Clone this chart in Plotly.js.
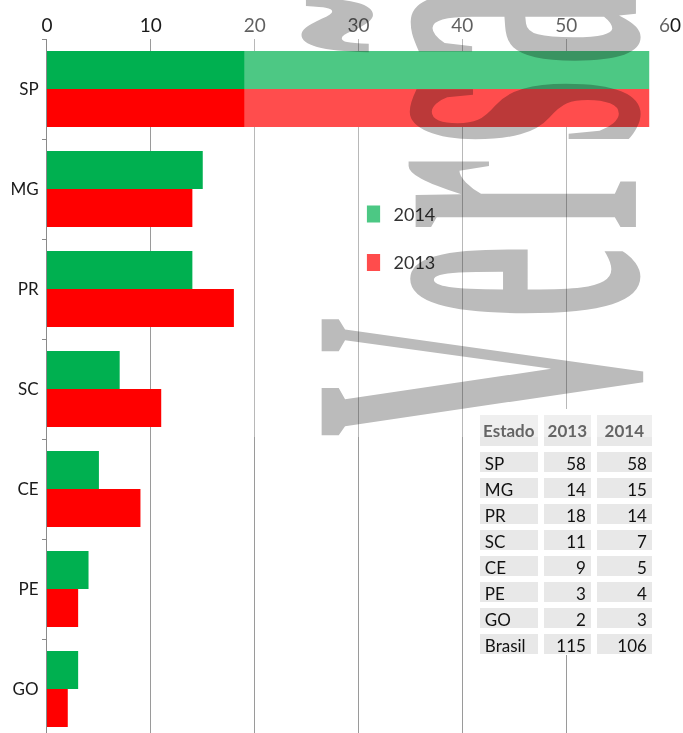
<!DOCTYPE html>
<html><head><meta charset="utf-8">
<script src="https://cdn.plot.ly/plotly-3.0.1.min.js"></script>
<style>
html,body{margin:0;padding:0;background:#fff;}
#chart{width:683px;height:733px;}
.legendpoints path{opacity:0.7 !important;}
</style></head><body><div id="chart"></div>
<script>
// ---- data ----
const estados = ['SP','MG','PR','SC','CE','PE','GO'];
const v2014 = [58,15,14,7,5,4,3];
const v2013 = [58,14,18,11,9,3,2];
const tabelaEstados = ['SP','MG','PR','SC','CE','PE','GO','Brasil'];
const tabela2013 = [58,14,18,11,9,3,2,115];
const tabela2014 = [58,15,14,7,5,4,3,106];
const tabelaCabecalho = ['<b>Estado</b>','<b>2013</b>','<b>2014</b>'];
const xTicks = [0,10,20,30,40,50,60];
const marcaDagua = 'Versão';

const FONT = 'Lato, "Open Sans", sans-serif';

const data = [
  {type:'bar', orientation:'h', name:'2014', y:estados, x:v2014,
   marker:{color:'#00b050', line:{width:0}}, legendgroup:'a'},
  {type:'bar', orientation:'h', name:'2013', y:estados, x:v2013,
   marker:{color:'#ff0000', line:{width:0}}, legendgroup:'b'},
  {type:'table', domain:{x:[0.690,0.976], y:[0.111,0.4625]},
   columnwidth:[64,53,61],
   header:{values:tabelaCabecalho, align:['center','center','center'], height:36,
     fill:{color:'#e8e8e8'}, line:{color:'#ffffff', width:6},
     font:{family:FONT, size:17, color:'#222'}},
   cells:{values:[tabelaEstados, tabela2013, tabela2014], align:['left','right','right'], height:26,
     fill:{color:'#e8e8e8'}, line:{color:'#ffffff', width:6},
     font:{family:FONT, size:17, color:'#111'}}}
];

const layout = {
  width:683, height:733,
  margin:{l:47, r:13, t:39, b:0, pad:0},
  paper_bgcolor:'#fff', plot_bgcolor:'#fff',
  font:{family:FONT, color:'#1a1a1a'},
  barmode:'group', bargap:0.24, bargroupgap:0,
  showlegend:true,
  legend:{x:0.492, y:0.774, xanchor:'left', yanchor:'top', bgcolor:'rgba(0,0,0,0)',
    traceorder:'grouped', tracegroupgap:22, font:{family:FONT, size:18, color:'#333'}},
  xaxis:{side:'top', range:[0,60], tickvals:xTicks, ticktext:xTicks.map(String),
    showgrid:true, gridcolor:'#9a9a9a', gridwidth:1, zeroline:false, showline:false,
    ticks:'', tickfont:{family:FONT, size:19, color:'#1a1a1a'}},
  yaxis:{type:'category', categoryorder:'array', categoryarray:estados,
    range:[6.44,-0.5], autorange:false, showgrid:false, zeroline:false,
    showline:true, linecolor:'#8a8a8a', linewidth:1,
    ticks:'outside', tickson:'boundaries', ticklen:4, tickcolor:'#8a8a8a',
    ticklabelstandoff:4,
    tickfont:{family:FONT, size:17, color:'#1a1a1a'}},
  shapes:[{type:'rect', xref:'x', yref:'paper', x0:19, x1:66, y0:0.4265, y1:1.1,
    fillcolor:'rgba(255,255,255,0.3)', line:{width:0}, layer:'above'}],
  annotations:[{text:'<b>'+marcaDagua+'</b>', xref:'paper', yref:'paper', x:0.685, y:0.787,
    showarrow:false, textangle:-90, xanchor:'center', yanchor:'middle',
    font:{family:'"Liberation Serif", "DejaVu Serif", serif', size:480, color:'#bbbbbb'}}]
};

Plotly.newPlot('chart', data, layout, {staticPlot:true, displayModeBar:false}).then(function(gd){
  // condensed watermark word
  const t = gd.querySelector('.annotation-text');
  if (t) {
    t.setAttribute('letter-spacing', '40');
    t.style.letterSpacing = '40px';
    const bb = t.getBBox();
    const cx = bb.x + bb.width/2, cy = bb.y + bb.height/2;
    const s = 0.345;
    const base = 'translate('+cx+','+cy+') scale('+s+',1) translate('+(-cx)+','+(-cy)+')';
    t.setAttribute('transform', base);
    t.style.mixBlendMode = 'multiply';
    const r = t.getBoundingClientRect();
    const dy = 437 - r.bottom;
    t.setAttribute('transform', 'translate('+(-dy)+',0) ' + base);
  }
  // taller legend swatches
  gd.querySelectorAll('.legendpoints path').forEach(function(p){
    const tr = p.getAttribute('transform') || '';
    p.setAttribute('transform', tr + ' scale(1.1,1.42)');
  });
  // small nudge of top tick labels
  gd.querySelectorAll('.xtick text').forEach(function(el){
    const tr = el.getAttribute('transform') || '';
    el.setAttribute('transform', tr + ' translate(0,-2)');
  });
});
</script></body></html>
